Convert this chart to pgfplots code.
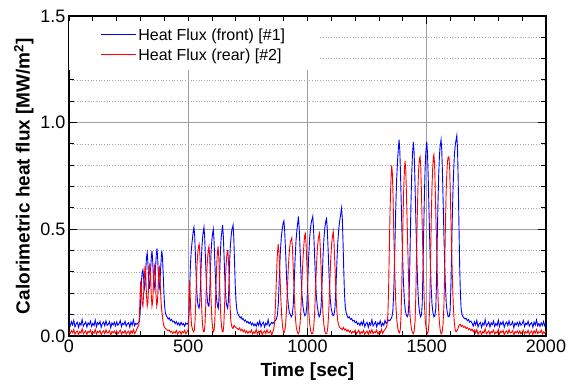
\documentclass[border=0pt]{standalone}
\usepackage{pgfplots}
\pgfplotsset{compat=1.18}
\usepackage{fontspec}
\setmainfont{Liberation Sans}
\begin{document}
\begin{tikzpicture}
\begin{axis}[
  width=477pt, height=320pt, scale only axis,
  xmin=0, xmax=2000, ymin=0, ymax=1.5,
  xtick={0,500,1000,1500,2000}, ytick={0,0.5,1.0,1.5},
  minor x tick num=4, minor y tick num=4,
  xtick pos=both, ytick pos=both,
  tick align=inside,
  major tick length=8pt, minor tick length=5pt,
  every tick/.style={black, line width=1pt},
  axis line style={black, line width=1.2pt},
  xmajorgrids, ymajorgrids, yminorgrids,
  major grid style={gray!75, line width=0.7pt},
  minor grid style={gray!70, line width=0.7pt, dotted},
  scaled x ticks=false,
  /pgf/number format/assume math mode=true,
  xticklabel style={font=\fontsize{18}{20}\selectfont, /pgf/number format/1000 sep={}},
  yticklabel style={font=\fontsize{18}{20}\selectfont, /pgf/number format/.cd, fixed, fixed zerofill, precision=1},
  xlabel={\bfseries Time [sec]},
  ylabel={\bfseries Calorimetric heat flux [MW/m\textsuperscript{2}]},
  label style={font=\fontsize{19}{22}\selectfont\bfseries},
  xlabel style={yshift=-4pt},
  legend style={at={([yshift=-5pt]rel axis cs:0,1)}, anchor=north west, draw=none, fill=white,
    font=\fontsize{16}{18}\selectfont, inner xsep=31pt, inner ysep=6pt,
    row sep=3pt},
  legend cell align=left,
  legend image code/.code={\draw[#1, line width=1.2pt] (0pt,1.5pt) -- (35pt,1.5pt);},
]
\addplot[blue, line width=0.9pt] coordinates {
(0,.060)(5,.047)(10,.067)(15,.052)(20,.073)(25,.043)(30,.057)(35,.064)(40,.040)(45,.061)
(50,.051)(55,.077)(60,.046)(65,.056)(70,.066)(75,.042)(80,.062)(85,.053)(90,.070)(95,.045)
(100,.059)(105,.049)(110,.074)(115,.044)(120,.063)(125,.054)(130,.068)(135,.041)(140,.058)(145,.065)
(150,.048)(155,.071)(160,.050)(165,.055)(170,.067)(175,.039)(180,.061)(185,.052)(190,.064)(195,.047)
(200,.066)(205,.050)(210,.058)(215,.072)(220,.044)(225,.060)(230,.053)(235,.069)(240,.046)(245,.057)
(250,.063)(255,.041)(260,.065)(265,.051)(270,.075)(275,.048)(280,.059)(285,.055)(290,.062)(295,.068)
(298,.10)(301,.18)(304,.26)(307,.30)(310,.31)(313,.27)(316,.22)(319,.24)(322,.31)(325,.37)
(328,.39)(331,.34)(334,.26)(337,.22)(340,.25)(343,.33)(346,.38)(348,.40)(351,.35)(354,.27)
(357,.22)(360,.24)(363,.32)(366,.38)(369,.41)(372,.36)(375,.28)(378,.22)(381,.24)(384,.31)
(387,.37)(389,.40)(392,.37)(395,.29)(398,.20)(401,.14)(404,.11)(408,.095)(412,.088)(416,.080)
(420,.085)(425,.072)(430,.078)(435,.066)(440,.070)(445,.058)(450,.067)(455,.053)(460,.062)(465,.049)
(470,.064)(475,.052)(480,.058)(485,.046)(490,.061)(495,.055)(500,.063)
(503,.10)(506,.22)(509,.33)(512,.39)(515,.43)(518,.46)(521,.49)(524,.51)(527,.47)(530,.38)
(533,.29)(536,.21)(539,.16)(542,.14)(545,.13)(548,.15)(551,.22)(554,.33)(557,.41)(560,.46)
(563,.49)(566,.51)(569,.46)(572,.37)(575,.28)(578,.20)(581,.16)(584,.14)(587,.14)(590,.20)
(593,.31)(596,.40)(599,.45)(602,.48)(605,.50)(608,.45)(611,.36)(614,.27)(617,.20)(620,.16)
(623,.14)(626,.13)(629,.18)(632,.30)(635,.40)(638,.46)(641,.49)(644,.52)(647,.47)(650,.38)
(653,.28)(656,.21)(659,.16)(662,.14)(665,.13)(668,.16)(671,.25)(674,.36)(677,.43)(680,.47)
(683,.50)(686,.51)(688,.52)(691,.46)(694,.35)(697,.24)(700,.17)(703,.13)(706,.11)(710,.10)
(714,.092)(718,.085)(722,.09)(726,.078)(730,.082)(735,.07)(740,.075)(745,.063)(750,.068)(755,.058)
(760,.066)(765,.052)(770,.061)(775,.048)(780,.057)(785,.045)(790,.063)(795,.050)(800,.071)(805,.044)
(810,.058)(815,.065)(820,.042)(825,.060)(830,.052)(835,.076)(840,.047)(845,.056)(850,.064)(855,.058)
(860,.066)(865,.072)
(870,.08)(874,.10)(878,.16)(882,.28)(886,.39)(890,.46)(894,.50)(898,.53)(901,.54)(904,.50)
(908,.40)(912,.28)(916,.19)(920,.14)(924,.11)(928,.10)(932,.09)(936,.10)(940,.14)(944,.24)
(948,.36)(952,.45)(956,.50)(959,.53)(962,.56)(965,.51)(969,.40)(973,.28)(977,.19)(981,.14)
(985,.11)(989,.095)(993,.10)(997,.14)(1001,.25)(1005,.37)(1009,.46)(1013,.51)(1017,.54)(1020,.55)
(1022,.56)(1025,.51)(1029,.40)(1033,.28)(1037,.19)(1041,.14)(1045,.11)(1049,.09)(1053,.10)(1057,.14)
(1061,.25)(1065,.37)(1069,.46)(1073,.51)(1077,.54)(1080,.55)(1083,.50)(1087,.39)(1091,.27)(1095,.18)
(1099,.13)(1103,.11)(1107,.095)(1111,.10)(1115,.13)(1119,.22)(1123,.34)(1127,.44)(1131,.50)(1135,.54)
(1139,.57)(1143,.60)(1146,.55)(1149,.44)(1152,.31)(1155,.20)(1158,.14)(1162,.11)(1166,.095)(1170,.085)
(1175,.09)(1180,.078)(1185,.082)(1190,.07)(1195,.074)(1200,.062)(1205,.068)(1210,.055)
(1215,.061)(1220,.049)(1225,.066)(1230,.052)(1235,.072)(1240,.044)(1245,.058)(1250,.064)(1255,.041)(1260,.062)
(1265,.050)(1270,.076)(1275,.047)(1280,.057)(1285,.066)(1290,.043)(1295,.063)(1300,.054)(1305,.071)(1310,.046)
(1315,.060)(1320,.050)(1325,.073)(1330,.058)(1335,.066)(1340,.075)(1345,.072)
(1350,.080)(1354,.09)(1358,.12)(1362,.22)(1366,.40)(1370,.60)(1374,.74)(1378,.83)(1381,.88)(1384,.92)
(1387,.87)(1390,.76)(1394,.58)(1398,.40)(1402,.26)(1406,.17)(1410,.12)(1414,.10)(1418,.09)(1422,.10)
(1425,.15)(1428,.28)(1431,.46)(1434,.63)(1437,.76)(1440,.85)(1444,.91)(1447,.86)(1450,.75)(1454,.56)
(1458,.38)(1462,.24)(1466,.15)(1470,.11)(1474,.09)(1478,.10)(1481,.15)(1484,.30)(1487,.48)(1490,.65)
(1493,.78)(1496,.86)(1500,.91)(1503,.86)(1506,.75)(1510,.56)(1514,.38)(1518,.24)(1522,.15)(1526,.11)
(1530,.09)(1534,.095)(1538,.13)(1541,.26)(1544,.45)(1547,.62)(1550,.75)(1553,.84)(1556,.89)(1560,.92)
(1563,.87)(1566,.76)(1570,.57)(1574,.38)(1578,.24)(1582,.15)(1586,.11)(1590,.09)(1594,.09)(1598,.12)
(1601,.22)(1604,.38)(1607,.55)(1610,.68)(1613,.78)(1616,.85)(1620,.90)(1623,.92)(1626,.94)(1629,.88)
(1632,.72)(1635,.52)(1638,.33)(1641,.20)(1644,.13)(1648,.10)(1652,.09)(1656,.085)(1660,.08)(1665,.083)
(1670,.072)(1675,.077)(1680,.065)(1685,.07)
(1690,.060)(1695,.047)(1700,.067)(1705,.052)(1710,.073)(1715,.043)(1720,.057)(1725,.064)(1730,.040)(1735,.061)
(1740,.051)(1745,.077)(1750,.046)(1755,.056)(1760,.066)(1765,.042)(1770,.062)(1775,.053)(1780,.070)(1785,.045)
(1790,.059)(1795,.049)(1800,.074)(1805,.044)(1810,.063)(1815,.054)(1820,.068)(1825,.041)(1830,.058)(1835,.065)
(1840,.048)(1845,.071)(1850,.050)(1855,.055)(1860,.067)(1865,.039)(1870,.061)(1875,.052)(1880,.064)(1885,.047)
(1890,.066)(1895,.050)(1900,.058)(1905,.072)(1910,.044)(1915,.060)(1920,.053)(1925,.069)(1930,.046)(1935,.057)
(1940,.063)(1945,.041)(1950,.065)(1955,.051)(1960,.075)(1965,.048)(1970,.059)(1975,.045)(1980,.062)(1985,.050)
(1990,.068)(1995,.047)(2000,.058)
};
\addlegendentry{Heat Flux (front) [\#1]}
\addplot[red, line width=0.9pt] coordinates {
(0,.020)(5,.012)(10,.025)(15,.015)(20,.030)(25,.008)(30,.018)(35,.023)(40,.006)(45,.021)
(50,.014)(55,.034)(60,.010)(65,.017)(70,.024)(75,.007)(80,.022)(85,.016)(90,.028)(95,.009)
(100,.019)(105,.013)(110,.031)(115,.008)(120,.022)(125,.016)(130,.026)(135,.006)(140,.018)(145,.024)
(150,.011)(155,.029)(160,.014)(165,.017)(170,.025)(175,.005)(180,.021)(185,.015)(190,.023)(195,.012)
(200,.024)(205,.010)(210,.019)(215,.027)(220,.009)(225,.020)(230,.014)(235,.026)(240,.008)(245,.018)
(250,.023)(255,.007)(260,.025)(265,.013)(270,.030)(275,.011)(280,.020)(285,.035)(290,.045)
(293,.05)(296,.12)(299,.22)(301,.26)(304,.20)(307,.15)(310,.14)(313,.20)(316,.28)(319,.33)
(322,.28)(325,.19)(328,.14)(331,.16)(334,.24)(337,.32)(339,.34)(342,.28)(345,.19)(348,.14)
(351,.16)(354,.25)(357,.32)(359,.33)(362,.27)(365,.19)(368,.14)(371,.16)(374,.24)(377,.31)
(379,.32)(382,.26)(385,.18)(388,.13)(391,.10)(394,.07)(397,.05)(401,.04)(405,.035)(410,.03)
(415,.025)(420,.028)(425,.018)(430,.022)(435,.012)(440,.020)(445,.014)(450,.026)(455,.009)(460,.018)
(465,.023)(470,.008)(475,.021)(480,.015)(485,.027)(490,.010)(495,.019)(500,.03)
(502,.08)(504,.20)(506,.26)(508,.20)(511,.10)(514,.05)(518,.03)(522,.02)(525,.025)(528,.06)
(531,.14)(534,.25)(537,.34)(540,.39)(543,.42)(546,.43)(549,.38)(552,.28)(555,.17)(558,.09)
(561,.04)(564,.02)(567,.02)(570,.05)(573,.13)(576,.24)(579,.33)(582,.38)(585,.41)(587,.42)
(590,.37)(593,.27)(596,.16)(599,.08)(602,.04)(605,.02)(608,.025)(611,.06)(614,.15)(617,.26)
(620,.35)(623,.40)(625,.42)(628,.37)(631,.27)(634,.16)(637,.08)(640,.04)(643,.02)(646,.02)
(649,.05)(652,.13)(655,.24)(658,.32)(661,.37)(664,.40)(666,.40)(669,.35)(672,.25)(675,.15)
(678,.08)(681,.05)(684,.04)(688,.035)(692,.05)(696,.045)(700,.04)(705,.035)(710,.03)(715,.038)
(720,.025)(725,.032)(730,.02)(735,.028)(740,.015)(745,.024)(750,.012)(755,.022)(760,.016)(765,.028)
(770,.009)(775,.019)(780,.013)(785,.031)(790,.008)(795,.022)(800,.016)(805,.026)(810,.006)(815,.018)
(820,.024)(825,.011)(830,.029)(835,.014)(840,.017)(845,.025)(850,.005)(855,.021)
(858,.03)(862,.06)(866,.15)(870,.28)(873,.37)(877,.43)(880,.40)(884,.30)(888,.18)(892,.09)
(896,.04)(900,.015)(904,.02)(908,.05)(912,.12)(916,.23)(920,.33)(924,.40)(928,.44)(931,.45)
(934,.46)(937,.41)(941,.30)(945,.18)(949,.09)(953,.04)(957,.02)(961,.01)(965,.02)(969,.06)
(973,.14)(977,.26)(981,.36)(985,.43)(988,.47)(991,.48)(994,.43)(998,.32)(1002,.20)(1006,.10)
(1010,.05)(1014,.02)(1018,.01)(1022,.012)(1026,.04)(1030,.11)(1034,.23)(1038,.34)(1042,.42)(1046,.46)
(1050,.48)(1053,.43)(1057,.32)(1061,.19)(1065,.10)(1069,.05)(1073,.02)(1077,.01)(1081,.012)(1085,.04)
(1089,.11)(1093,.23)(1097,.35)(1101,.43)(1105,.47)(1108,.49)(1111,.44)(1115,.33)(1119,.21)(1123,.12)
(1127,.07)(1131,.05)(1135,.04)(1140,.035)(1145,.03)(1150,.04)(1155,.028)(1160,.033)(1165,.022)(1170,.03)
(1175,.018)(1180,.025)(1185,.012)(1190,.022)(1195,.016)(1200,.027)
(1205,.010)(1210,.019)(1215,.027)(1220,.009)(1225,.020)(1230,.014)(1235,.026)(1240,.008)(1245,.018)(1250,.023)
(1255,.007)(1260,.025)(1265,.013)(1270,.030)(1275,.011)(1280,.020)(1285,.016)(1290,.028)(1295,.009)(1300,.019)
(1305,.013)(1310,.031)(1315,.012)(1320,.024)(1325,.03)(1330,.04)
(1333,.05)(1337,.10)(1340,.22)(1343,.40)(1346,.58)(1349,.70)(1351,.76)(1353,.80)(1356,.76)(1359,.64)
(1362,.47)(1366,.30)(1370,.16)(1374,.08)(1378,.04)(1382,.02)(1386,.015)(1389,.03)(1392,.09)(1395,.22)
(1398,.40)(1401,.58)(1404,.71)(1407,.79)(1409,.82)(1412,.78)(1415,.66)(1419,.48)(1423,.30)(1427,.16)
(1431,.08)(1435,.04)(1439,.02)(1443,.01)(1447,.02)(1451,.07)(1454,.18)(1457,.36)(1460,.55)(1463,.69)
(1466,.78)(1469,.83)(1472,.84)(1475,.79)(1478,.66)(1482,.47)(1486,.29)(1490,.15)(1494,.07)(1498,.03)
(1502,.01)(1506,.02)(1510,.07)(1513,.18)(1516,.36)(1519,.55)(1522,.70)(1525,.79)(1528,.84)(1530,.85)
(1533,.80)(1536,.67)(1540,.48)(1544,.30)(1548,.16)(1552,.08)(1556,.03)(1560,.01)(1564,.015)(1568,.05)
(1572,.14)(1575,.30)(1578,.50)(1581,.66)(1584,.76)(1587,.82)(1590,.84)(1593,.84)(1596,.79)(1599,.66)
(1603,.47)(1607,.29)(1611,.15)(1615,.07)(1619,.03)(1623,.02)(1627,.025)(1631,.035)(1635,.05)(1640,.055)
(1645,.045)(1650,.05)(1655,.04)(1660,.045)(1665,.035)(1670,.04)(1675,.03)(1680,.035)(1685,.025)(1690,.032)
(1695,.02)(1700,.028)
(1705,.015)(1710,.030)(1715,.008)(1720,.018)(1725,.023)(1730,.006)(1735,.021)(1740,.014)(1745,.034)(1750,.010)
(1755,.017)(1760,.024)(1765,.007)(1770,.022)(1775,.016)(1780,.028)(1785,.009)(1790,.019)(1795,.013)(1800,.031)
(1805,.008)(1810,.022)(1815,.016)(1820,.026)(1825,.006)(1830,.018)(1835,.024)(1840,.011)(1845,.029)(1850,.014)
(1855,.017)(1860,.025)(1865,.005)(1870,.021)(1875,.015)(1880,.023)(1885,.012)(1890,.024)(1895,.010)(1900,.019)
(1905,.027)(1910,.009)(1915,.020)(1920,.014)(1925,.026)(1930,.008)(1935,.018)(1940,.023)(1945,.007)(1950,.025)
(1955,.013)(1960,.030)(1965,.011)(1970,.020)(1975,.016)(1980,.028)(1985,.009)(1990,.019)(1995,.013)(2000,.022)
};
\addlegendentry{Heat Flux (rear) [\#2]}
\end{axis}
\path ([xshift=-69pt,yshift=16pt]current axis.north west) rectangle ([xshift=24pt,yshift=-49pt]current axis.south east);
\end{tikzpicture}
\end{document}
